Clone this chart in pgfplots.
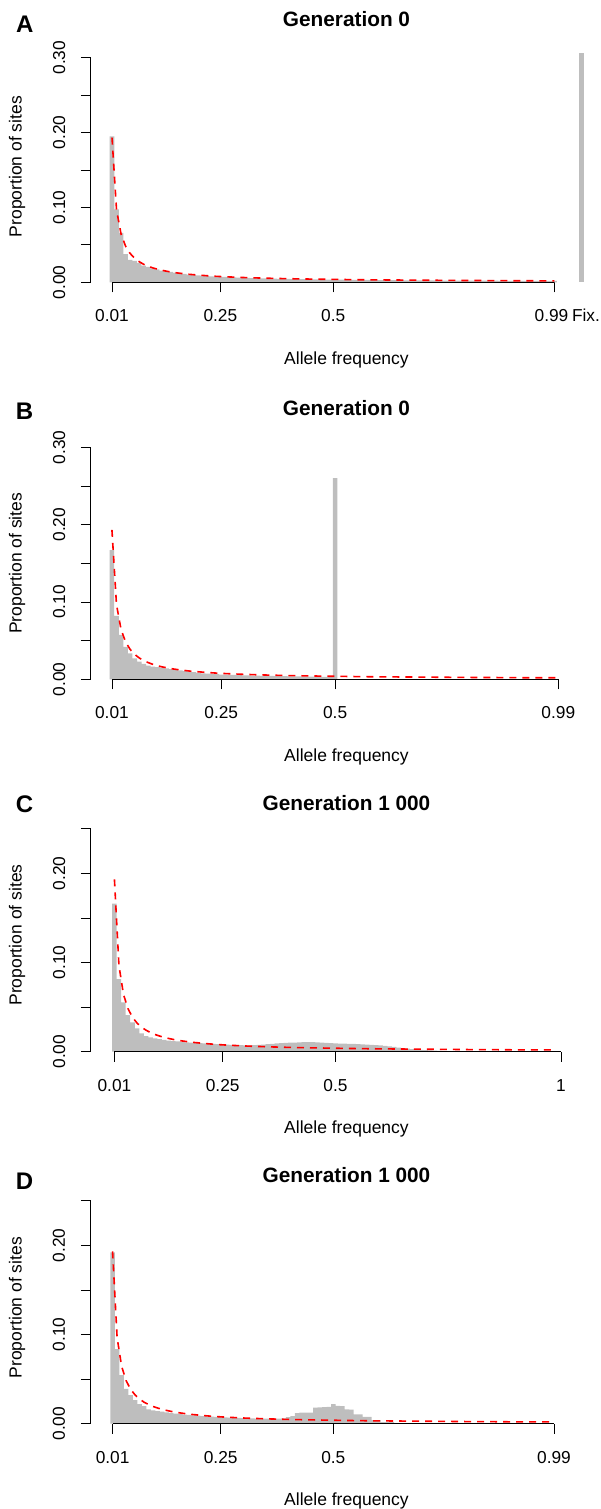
\documentclass[border=0pt]{standalone}
\usepackage{fontspec}
\setmainfont{Liberation Sans}
\usepackage{pgfplots}
\usepackage{pgfplotstable}
\pgfplotsset{compat=1.18}

\definecolor{histgrey}{HTML}{BEBEBE}
\newcommand\ticklab{\fontsize{17.3}{20}\selectfont}
\newcommand\lab{\fontsize{17.5}{20}\selectfont}
\newcommand\ttl{\fontsize{20.8}{24}\selectfont\bfseries}
\newcommand\panel{\fontsize{24}{28}\selectfont\bfseries}

% neutral expectation (dashed red line)
\pgfplotstableread{
x y
0.01 0.1932
0.02 0.0966
0.03 0.0644
0.04 0.0483
0.05 0.0386
0.06 0.0322
0.07 0.0276
0.08 0.0241
0.09 0.0215
0.10 0.0193
0.11 0.0176
0.12 0.0161
0.13 0.0149
0.14 0.0138
0.15 0.0129
0.16 0.0121
0.17 0.0114
0.18 0.0107
0.19 0.0102
0.20 0.0097
0.22 0.0088
0.24 0.0080
0.26 0.0074
0.28 0.0069
0.30 0.0064
0.35 0.0055
0.40 0.0048
0.45 0.0043
0.50 0.0039
0.55 0.0035
0.60 0.0032
0.65 0.0030
0.70 0.0028
0.75 0.0026
0.80 0.0024
0.85 0.0023
0.90 0.0021
0.95 0.0020
0.99 0.0020
}\curve

% A: generation 0, with fixed sites
\pgfplotstableread{
x y
0.01 0.195
0.02 0.0975
0.03 0.066
0.04 0.0376
0.05 0.0298
0.06 0.0285
0.07 0.026
0.08 0.0222
0.09 0.0205
0.10 0.0187
0.11 0.0172
0.12 0.0156
0.13 0.0150
0.14 0.0140
0.15 0.0128
0.16 0.0120
0.17 0.0112
0.18 0.0103
0.19 0.0098
0.20 0.0094
0.21 0.0089
0.22 0.0084
0.23 0.0080
0.24 0.0077
0.25 0.0074
0.26 0.0071
0.27 0.0068
0.28 0.0066
0.29 0.0064
0.30 0.0061
0.31 0.0059
0.32 0.0057
0.33 0.0055
0.34 0.0053
0.35 0.0052
0.36 0.0050
0.37 0.0049
0.38 0.0047
0.39 0.0046
0.40 0.0045
0.41 0.0044
0.42 0.0043
0.43 0.0042
0.44 0.0041
0.45 0.0040
0.46 0.0039
0.47 0.0038
0.48 0.0037
0.49 0.0037
0.50 0.0036
0.51 0.0035
0.52 0.0035
0.53 0.0034
0.54 0.0033
0.55 0.0033
0.56 0.0032
0.57 0.0032
0.58 0.0031
0.59 0.0031
0.60 0.0030
0.61 0.0030
0.62 0.0029
0.63 0.0029
0.64 0.0028
0.65 0.0028
0.66 0.0027
0.67 0.0027
0.68 0.0026
0.69 0.0026
0.70 0.0026
0.71 0.0025
0.72 0.0025
0.73 0.0025
0.74 0.0024
0.75 0.0024
0.76 0.0024
0.77 0.0023
0.78 0.0023
0.79 0.0023
0.80 0.0022
0.81 0.0022
0.82 0.0022
0.83 0.0021
0.84 0.0021
0.85 0.0021
0.86 0.0021
0.87 0.0020
0.88 0.0020
0.89 0.0020
0.90 0.0020
0.91 0.0019
0.92 0.0019
0.93 0.0019
0.94 0.0019
0.95 0.0018
0.96 0.0018
0.97 0.0018
0.98 0.0018
0.99 0.0018
}\histA

% B: generation 0, sites started at 0.5
\pgfplotstableread{
x y
0.01 0.167
0.02 0.082
0.03 0.0573
0.04 0.042
0.05 0.0336
0.06 0.0272
0.07 0.0228
0.08 0.0198
0.09 0.0178
0.10 0.0165
0.11 0.0158
0.12 0.0150
0.13 0.0142
0.14 0.0132
0.15 0.0124
0.16 0.0116
0.17 0.0108
0.18 0.0100
0.19 0.0093
0.20 0.0082
0.21 0.0078
0.22 0.0074
0.23 0.0070
0.24 0.0066
0.25 0.0062
0.26 0.0060
0.27 0.0058
0.28 0.0056
0.29 0.0054
0.30 0.0052
0.31 0.0050
0.32 0.0048
0.33 0.0047
0.34 0.0045
0.35 0.0044
0.36 0.0043
0.37 0.0042
0.38 0.0041
0.39 0.0040
0.40 0.0039
0.41 0.0038
0.42 0.0037
0.43 0.0036
0.44 0.0035
0.45 0.0034
0.46 0.0034
0.47 0.0033
0.48 0.0032
0.49 0.0032
0.50 0.260
}\histB

% C: generation 1000
\pgfplotstableread{
x y
0.01 0.166
0.02 0.0815
0.03 0.0554
0.04 0.0411
0.05 0.033
0.06 0.0262
0.07 0.0206
0.08 0.0175
0.09 0.0160
0.10 0.0150
0.11 0.0140
0.12 0.0132
0.13 0.0125
0.14 0.0120
0.15 0.0115
0.16 0.0110
0.17 0.0106
0.18 0.0102
0.19 0.0099
0.20 0.0096
0.21 0.0093
0.22 0.0090
0.23 0.0088
0.24 0.0086
0.25 0.0084
0.26 0.0080
0.27 0.0077
0.28 0.0075
0.29 0.0073
0.30 0.0072
0.31 0.0072
0.32 0.0073
0.33 0.0076
0.34 0.0080
0.35 0.0085
0.36 0.0089
0.37 0.0093
0.38 0.0096
0.39 0.0099
0.40 0.0101
0.41 0.0103
0.42 0.0105
0.43 0.0107
0.44 0.0108
0.45 0.0108
0.46 0.0106
0.47 0.0102
0.48 0.0098
0.49 0.0095
0.50 0.0093
0.51 0.0091
0.52 0.0090
0.53 0.0089
0.54 0.0088
0.55 0.0086
0.56 0.0083
0.57 0.0080
0.58 0.0077
0.59 0.0074
0.60 0.0071
0.61 0.0066
0.62 0.0060
0.63 0.0054
0.64 0.0047
0.65 0.0041
0.66 0.0035
0.67 0.0030
0.68 0.0025
0.69 0.0021
0.70 0.0018
0.71 0.0015
0.72 0.0012
0.73 0.0010
0.74 0.0008
0.75 0.0007
0.76 0.0005
0.77 0.0004
0.78 0.0003
0.79 0.0002
0.80 0.0001
}\histC

% D: generation 1000
\pgfplotstableread{
x y
0.01 0.192
0.02 0.0837
0.03 0.0546
0.04 0.0392
0.05 0.0321
0.06 0.0265
0.07 0.022
0.08 0.0198
0.09 0.016
0.10 0.0150
0.11 0.0142
0.12 0.0135
0.13 0.0128
0.14 0.0120
0.15 0.0113
0.16 0.0107
0.17 0.0102
0.18 0.0098
0.19 0.0094
0.20 0.0090
0.21 0.0086
0.22 0.0082
0.23 0.0079
0.24 0.0076
0.25 0.0073
0.26 0.0071
0.27 0.0069
0.28 0.0067
0.29 0.0065
0.30 0.0063
0.31 0.0061
0.32 0.0060
0.33 0.0058
0.34 0.0057
0.35 0.0056
0.36 0.0056
0.37 0.0056
0.38 0.0058
0.39 0.0060
0.40 0.0075
0.41 0.0086
0.42 0.0120
0.43 0.0123
0.44 0.0125
0.45 0.0125
0.46 0.0180
0.47 0.0183
0.48 0.0185
0.49 0.0190
0.50 0.0220
0.51 0.0200
0.52 0.0197
0.53 0.0162
0.54 0.0158
0.55 0.0105
0.56 0.0104
0.57 0.0078
0.58 0.0077
0.59 0.0041
0.60 0.0040
0.61 0.0019
0.62 0.0018
0.63 0.0017
0.64 0.0006
0.65 0.0004
}\histD

\pgfplotsset{
  sfs/.style={
    anchor=south west, scale only axis, enlargelimits=false, clip=false,
    axis line style={draw=none},
    tick align=outside, major tick length=10pt, tick pos=left,
    tick style={black, line width=0.8pt},
    ymin=0,
    xtick={0.01,0.25,0.5,0.99}, xticklabels={0.01,0.25,0.5,0.99},
    xticklabel style={font=\ticklab, anchor=base, yshift=-29.5pt},
    yticklabel style={font=\ticklab, xshift=-15.8pt, rotate=90, anchor=base},
  },
  hist/.style={ybar, bar width=0.0101, fill=histgrey, draw=none},
  neutral/.style={red, line width=1.6pt, dash pattern=on 7pt off 6pt},
}
\tikzset{axisline/.style={black, line width=0.8pt}}

\begin{document}
\begin{tikzpicture}
\useasboundingbox (0pt,0pt) rectangle (601pt,-1509pt);

% ---- A ----
\begin{axis}[sfs, at={(90.8pt,-282.3pt)}, x=451.5pt, y=748.7pt,
  xmin=-0.037, xmax=1.09, ymax=0.31,
  xticklabels={0.01,0.25,0.5,0.99\hspace*{6pt}},
  ytick={0,0.05,0.1,0.15,0.2,0.25,0.3}, yticklabels={0.00,,0.10,,0.20,,0.30}]
  \addplot[hist] table {\histA};
  \addplot[ybar, bar width=0.011, fill=histgrey, draw=none] coordinates {(1.05,0.306)};
  \addplot[neutral] table {\curve};
  \draw[axisline] (axis cs:0.01,0) -- (axis cs:0.99,0);
  \draw[axisline] (axis cs:-0.037,0) -- (axis cs:-0.037,0.30);
\end{axis}
\node[anchor=base, font=\ticklab] at (586pt,-321.7pt) {Fix.};
\node[anchor=base, font=\panel] at (24.7pt,-32.3pt) {A};
\node[anchor=base, font=\ttl] at (346.5pt,-26.7pt) {Generation 0};
\node[anchor=base, font=\lab] at (346.5pt,-364.3pt) {Allele frequency};
\node[anchor=base, rotate=90, font=\lab] at (21.5pt,-166.7pt) {Proportion of sites};

% ---- B ----
\begin{axis}[sfs, at={(90.8pt,-679.3pt)}, x=455.5pt, y=773.3pt,
  xmin=-0.0364, xmax=1.08, ymax=0.30,
  ytick={0,0.05,0.1,0.15,0.2,0.25,0.3}, yticklabels={0.00,,0.10,,0.20,,0.30}]
  \addplot[hist] table {\histB};
  \addplot[neutral] table {\curve};
  \draw[axisline] (axis cs:0.01,0) -- (axis cs:0.99,0);
  \draw[axisline] (axis cs:-0.0364,0) -- (axis cs:-0.0364,0.30);
\end{axis}
\node[anchor=base, font=\panel] at (24.5pt,-419pt) {B};
\node[anchor=base, font=\ttl] at (346.5pt,-415pt) {Generation 0};
\node[anchor=base, font=\lab] at (346.5pt,-761.3pt) {Allele frequency};
\node[anchor=base, rotate=90, font=\lab] at (21.5pt,-563.3pt) {Proportion of sites};

% ---- C ----
\begin{axis}[sfs, at={(90.8pt,-1051.7pt)}, x=451.1pt, y=891.8pt,
  xmin=-0.0424, xmax=1.09, ymax=0.25,
  xtick={0.01,0.25,0.5,1}, xticklabels={0.01,0.25,0.5,1},
  ytick={0,0.05,0.1,0.15,0.2,0.25}, yticklabels={0.00,,0.10,,0.20,}]
  \addplot[hist] table {\histC};
  \addplot[neutral] table {\curve};
  \draw[axisline] (axis cs:0.01,0) -- (axis cs:1,0);
  \draw[axisline] (axis cs:-0.0424,0) -- (axis cs:-0.0424,0.25);
\end{axis}
\node[anchor=base, font=\panel] at (24.5pt,-812.5pt) {C};
\node[anchor=base, font=\ttl] at (346.5pt,-810pt) {Generation 1 000};
\node[anchor=base, font=\lab] at (346.5pt,-1133.7pt) {Allele frequency};
\node[anchor=base, rotate=90, font=\lab] at (21.5pt,-935pt) {Proportion of sites};

% ---- D ----
\begin{axis}[sfs, at={(90.8pt,-1423.7pt)}, x=450.4pt, y=892pt,
  xmin=-0.0384, xmax=1.09, ymax=0.25,
  ytick={0,0.05,0.1,0.15,0.2,0.25}, yticklabels={0.00,,0.10,,0.20,}]
  \addplot[hist] table {\histD};
  \addplot[neutral] table {\curve};
  \draw[axisline] (axis cs:0.01,0) -- (axis cs:0.99,0);
  \draw[axisline] (axis cs:-0.0384,0) -- (axis cs:-0.0384,0.25);
\end{axis}
\node[anchor=base, font=\panel] at (24.5pt,-1189.3pt) {D};
\node[anchor=base, font=\ttl] at (346.5pt,-1182pt) {Generation 1 000};
\node[anchor=base, font=\lab] at (346.5pt,-1505.7pt) {Allele frequency};
\node[anchor=base, rotate=90, font=\lab] at (21.5pt,-1307.7pt) {Proportion of sites};
\end{tikzpicture}
\end{document}
